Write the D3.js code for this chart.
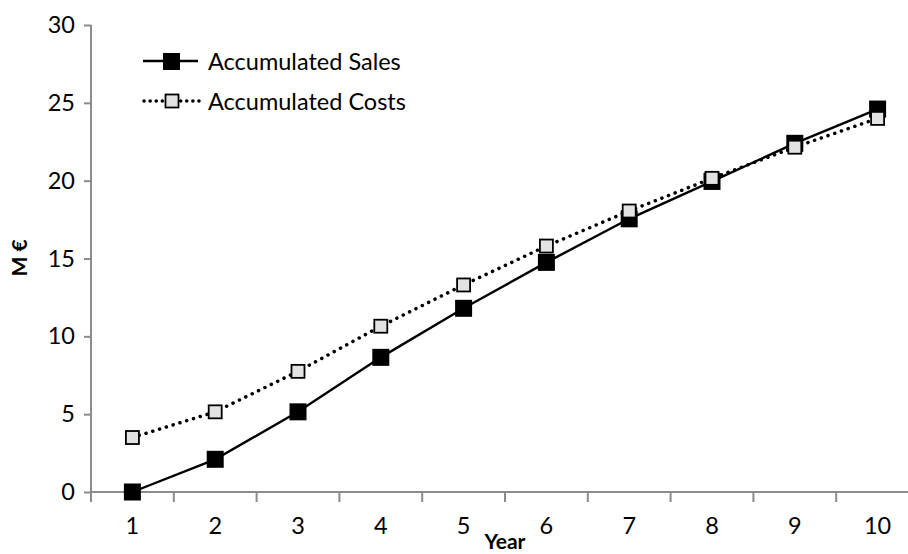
<!DOCTYPE html>
<html><head><meta charset="utf-8">
<script src="https://cdn.jsdelivr.net/npm/d3@7"></script>
<style>body{margin:0;background:#fff}svg{display:block}text{font-family:Lato,"Open Sans",sans-serif}</style>
</head><body><svg id="c" width="908" height="554"></svg>
<script>
const years = ["1","2","3","4","5","6","7","8","9","10"];
const sales = [0, 2.1, 5.15, 8.65, 11.8, 14.75, 17.55, 19.95, 22.4, 24.6];
const costs = [3.5, 5.15, 7.75, 10.65, 13.3, 15.8, 18.05, 20.15, 22.15, 24.0];
const yTicks = [0, 5, 10, 15, 20, 25, 30];
const seriesNames = ["Accumulated Sales", "Accumulated Costs"];

const svg = d3.select("#c");
const x = d3.scaleBand().domain(years).range([91, 919]);
const y = d3.scaleLinear().domain([0, 30]).range([492, 25]);
const axisCol = "#8c8c8c";
const fs = 23.5;

// y axis
const ya = svg.append("g").attr("transform","translate(91,0)")
  .call(d3.axisLeft(y).tickValues(yTicks).tickSize(7).tickPadding(9));
ya.select(".domain").attr("stroke", axisCol).attr("stroke-width",2).attr("d","M0,25V502");
ya.selectAll(".tick line").attr("stroke", axisCol).attr("stroke-width",2);
ya.selectAll(".tick text").attr("font-size",fs).attr("fill","#000");

// x axis
const xa = svg.append("g").attr("transform","translate(0,492)")
  .call(d3.axisBottom(x).tickSize(0).tickPadding(25));
xa.select(".domain").attr("stroke", axisCol).attr("stroke-width",2).attr("d","M91,0H919");
xa.selectAll(".tick text").attr("font-size",fs).attr("fill","#000");
xa.selectAll(".bt").data(years).enter().append("line")
  .attr("x1", d => x(d) + x.bandwidth()).attr("x2", d => x(d) + x.bandwidth())
  .attr("y1",0).attr("y2",10).attr("stroke",axisCol).attr("stroke-width",2);

// labels
svg.append("text").attr("transform","translate(27,258) rotate(-90)").attr("text-anchor","middle")
  .attr("font-size",21).attr("font-weight","bold").text("M €");
svg.append("text").attr("x",505).attr("y",549).attr("text-anchor","middle")
  .attr("font-size",21).attr("font-weight","bold").text("Year");

const cx = (d,i) => x(years[i]) + x.bandwidth()/2;
const line = d3.line().x(cx).y(d => y(d));

svg.append("path").attr("d", line(costs)).attr("fill","none").attr("stroke","#000")
  .attr("stroke-width",3.5).attr("stroke-dasharray","0.1 7").attr("stroke-linecap","round");
svg.append("path").attr("d", line(sales)).attr("fill","none").attr("stroke","#000").attr("stroke-width",2.4);

svg.selectAll(".ms").data(sales).enter().append("rect")
  .attr("x",(d,i)=>cx(d,i)-8.5).attr("y",d=>y(d)-8.5).attr("width",17).attr("height",17).attr("fill","#000");
svg.selectAll(".mc").data(costs).enter().append("rect")
  .attr("x",(d,i)=>cx(d,i)-6.5).attr("y",d=>y(d)-6.5).attr("width",13).attr("height",13)
  .attr("fill","#e3e3e3").attr("stroke","#000").attr("stroke-width",1.8);

// legend
const lg = svg.append("g");
lg.append("line").attr("x1",143).attr("x2",198).attr("y1",61).attr("y2",61).attr("stroke","#000").attr("stroke-width",2.4);
lg.append("rect").attr("x",163).attr("y",53).attr("width",17).attr("height",17).attr("fill","#000");
lg.append("text").attr("x",208).attr("y",70).attr("font-size",fs).text(seriesNames[0]);
lg.append("line").attr("x1",144).attr("x2",200).attr("y1",101).attr("y2",101).attr("stroke","#000")
  .attr("stroke-width",3.5).attr("stroke-dasharray","0.1 6").attr("stroke-linecap","round");
lg.append("rect").attr("x",165.5).attr("y",94.5).attr("width",13).attr("height",13)
  .attr("fill","#e3e3e3").attr("stroke","#000").attr("stroke-width",1.8);
lg.append("text").attr("x",208).attr("y",110).attr("font-size",fs).text(seriesNames[1]);
</script></body></html>
